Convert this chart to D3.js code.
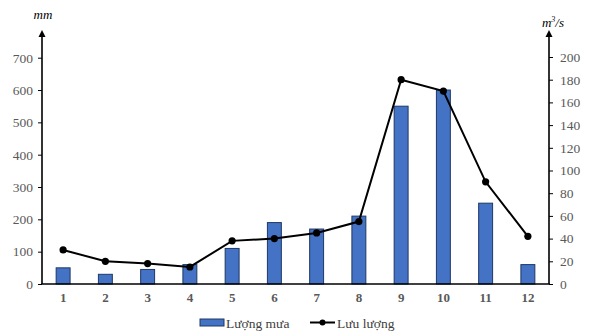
<!DOCTYPE html>
<html>
<head>
<meta charset="utf-8">
<script src="https://cdn.jsdelivr.net/npm/d3@7"></script>
<style>
  html, body { margin: 0; padding: 0; background: #fff; }
  svg text { font-family: "Liberation Serif", "Times New Roman", "DejaVu Serif", serif !important; }
</style>
</head>
<body>
<svg id="chart" width="590" height="334"></svg>
<script>
// Monthly rainfall (mm) and river discharge (m³/s)
const months = ["1", "2", "3", "4", "5", "6", "7", "8", "9", "10", "11", "12"];
const rainfall = [50, 30, 45, 60, 110, 190, 170, 210, 550, 600, 250, 60];
const discharge = [30, 20, 18, 15, 38, 40, 45, 55, 180, 170, 90, 42];
const leftTicks = [0, 100, 200, 300, 400, 500, 600, 700];
const rightTicks = [0, 20, 40, 60, 80, 100, 120, 140, 160, 180, 200];
const seriesNames = ["Lượng mưa", "Lưu lượng"];

const svg = d3.select("#chart");
const left = 42, right = 549, bottom = 284;

const x = d3.scaleBand().domain(months).range([left, right]).paddingInner(0.67).paddingOuter(0.335);
const yL = d3.scaleLinear().domain([0, 700]).range([bottom, 57.7]);
const yR = d3.scaleLinear().domain([0, 200]).range([bottom, 57]);

const barFill = "#4472C4", barStroke = "#1F3864", tickColor = "#595959";

// Rainfall bars
svg.append("g").selectAll("rect").data(months).join("rect")
  .attr("x", d => x(d))
  .attr("y", (d, i) => yL(rainfall[i]))
  .attr("width", x.bandwidth())
  .attr("height", (d, i) => bottom - yL(rainfall[i]))
  .attr("fill", barFill)
  .attr("stroke", barStroke)
  .attr("stroke-width", 1);

// Axes
const axisL = svg.append("g").attr("transform", `translate(${left},0)`)
  .call(d3.axisLeft(yL).tickValues(leftTicks).tickSize(4).tickPadding(5));
const axisR = svg.append("g").attr("transform", `translate(${right},0)`)
  .call(d3.axisRight(yR).tickValues(rightTicks).tickSize(4).tickPadding(7));
const axisX = svg.append("g").attr("transform", `translate(0,${bottom})`)
  .call(d3.axisBottom(x).tickSize(0).tickPadding(9));

[axisL, axisR].forEach(g => {
  g.select(".domain").remove();
  g.selectAll(".tick line").attr("stroke", "#000").attr("stroke-width", 1);
  g.selectAll(".tick text").attr("fill", tickColor).attr("font-size", 13.5);
});
axisX.select(".domain").remove();
axisX.selectAll(".tick text").attr("fill", tickColor).attr("font-size", 13)
  .attr("font-weight", "bold");

// Axis lines with arrowheads
const lineW = 1.6;
svg.append("line").attr("x1", left).attr("x2", left).attr("y1", bottom).attr("y2", 36)
  .attr("stroke", "#000").attr("stroke-width", lineW);
svg.append("line").attr("x1", right).attr("x2", right).attr("y1", bottom).attr("y2", 36)
  .attr("stroke", "#000").attr("stroke-width", lineW);
svg.append("line").attr("x1", left - 0.8).attr("x2", right + 0.8).attr("y1", bottom).attr("y2", bottom)
  .attr("stroke", "#000").attr("stroke-width", lineW);
[left, right].forEach(cx => {
  svg.append("path")
    .attr("d", `M${cx},30 L${cx - 3.5},37 L${cx + 3.5},37 Z`)
    .attr("fill", "#000");
});

// Units
svg.append("text").attr("x", 43).attr("y", 19).attr("text-anchor", "middle")
  .attr("font-style", "italic").attr("font-size", 13).text("mm");
const unitR = svg.append("text").attr("x", 553).attr("y", 27).attr("text-anchor", "middle")
  .attr("font-style", "italic").attr("font-size", 13);
unitR.append("tspan").text("m");
unitR.append("tspan").attr("dy", -5).attr("font-size", 8).text("3");
unitR.append("tspan").attr("dy", 5).text("/s");

// Discharge line
const cx = d => x(d) + x.bandwidth() / 2;
const line = d3.line().x((d, i) => cx(months[i])).y(d => yR(d));
svg.append("path").datum(discharge).attr("d", line)
  .attr("fill", "none").attr("stroke", "#000").attr("stroke-width", 2);
svg.append("g").selectAll("circle").data(discharge).join("circle")
  .attr("cx", (d, i) => cx(months[i])).attr("cy", d => yR(d)).attr("r", 3.6)
  .attr("fill", "#000");

// Legend
const lg = svg.append("g").attr("font-size", 13.5).attr("fill", "#404040");
lg.append("rect").attr("x", 200).attr("y", 319).attr("width", 24).attr("height", 7)
  .attr("fill", barFill).attr("stroke", barStroke);
lg.append("text").attr("x", 226).attr("y", 328).text(seriesNames[0]);
lg.append("line").attr("x1", 310).attr("x2", 335).attr("y1", 322.5).attr("y2", 322.5)
  .attr("stroke", "#000").attr("stroke-width", 2);
lg.append("circle").attr("cx", 322.5).attr("cy", 322.5).attr("r", 3).attr("fill", "#000");
lg.append("text").attr("x", 337).attr("y", 328).text(seriesNames[1]);
</script>
</body>
</html>
